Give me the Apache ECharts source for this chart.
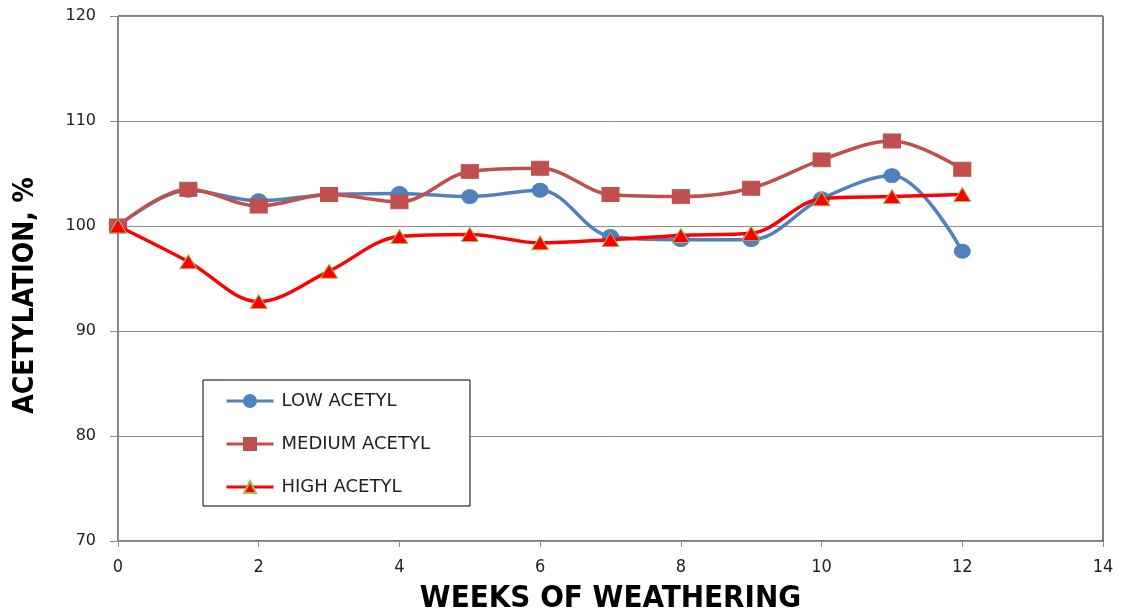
<!DOCTYPE html>
<html>
<head>
<meta charset="utf-8">
<title>Acetylation vs weeks of weathering</title>
<script src="https://cdn.jsdelivr.net/npm/echarts@6/dist/echarts.min.js"></script>
<style>
  html, body { margin: 0; padding: 0; background: #fff; }
  #chart { width: 1123px; height: 610px; }
</style>
</head>
<body>
<div id="chart"></div>
<script>
// Weeks of weathering (x values)
const weeks = [0, 1, 2, 3, 4, 5, 6, 7, 8, 9, 10, 11, 12];

// Acetylation retained, % of initial
const lowAcetyl    = [100, 103.4, 102.4, 103.0, 103.1, 102.8, 103.4, 99.0, 98.7, 98.7, 102.6, 104.8, 97.6];
const mediumAcetyl = [100, 103.5, 101.9, 103.0, 102.3, 105.2, 105.5, 103.0, 102.8, 103.6, 106.3, 108.1, 105.4];
const highAcetyl   = [100, 96.6, 92.8, 95.7, 99.0, 99.2, 98.4, 98.7, 99.1, 99.3, 102.6, 102.8, 103.0];

const seriesNames = ['LOW ACETYL', 'MEDIUM ACETYL', 'HIGH ACETYL'];

const xTitle = 'WEEKS OF WEATHERING';
const yTitle = 'ACETYLATION, %';

const pairs = ys => weeks.map((w, i) => [w, ys[i]]);

const chart = echarts.init(document.getElementById('chart'), null, { renderer: 'canvas' });

chart.setOption({
  animation: false,
  backgroundColor: '#ffffff',
  grid: {
    left: 118, right: 20, top: 16, bottom: 69,
    containLabel: false,
    outerBoundsMode: 'none',
    show: true, borderColor: '#000', borderWidth: 1, backgroundColor: 'transparent'
  },
  legend: {
    orient: 'vertical',
    left: 203, top: 380,
    padding: [12, 40, 10, 22],
    itemGap: 25,
    itemWidth: 47, itemHeight: 15,
    borderColor: '#000', borderWidth: 1,
    backgroundColor: '#fff',
    lineStyle: { width: 3 },
    textStyle: { fontFamily: 'DejaVu Sans', fontSize: 18, color: '#222', padding: [0, 0, 0, 3] },
    data: seriesNames
  },
  xAxis: {
    type: 'value', min: 0, max: 14, interval: 2,
    name: xTitle, nameLocation: 'middle', nameGap: 42,
    nameTextStyle: { fontFamily: "'DejaVu Sans Condensed', 'Liberation Sans'", fontWeight: 'bold', fontSize: 31, color: '#000' },
    axisLine: { show: true, lineStyle: { color: '#8c8c8c', width: 1 } },
    axisTick: { show: true, inside: false, length: 6, lineStyle: { color: '#8c8c8c' } },
    axisLabel: { fontFamily: "'DejaVu Sans Condensed', 'Liberation Sans'", fontSize: 18, color: '#222', margin: 17 },
    splitLine: { show: false }
  },
  yAxis: {
    type: 'value', min: 70, max: 120, interval: 10,
    name: yTitle, nameLocation: 'middle', nameGap: 78, nameRotate: 90,
    nameTextStyle: {
      fontFamily: "'DejaVu Sans Condensed', 'Liberation Sans'", fontWeight: 'bold', fontSize: 28, color: '#000',
      padding: [0, 34, 0, 0]
    },
    axisLine: { show: true, lineStyle: { color: '#8c8c8c', width: 1 } },
    axisTick: { show: true, inside: false, length: 8, lineStyle: { color: '#8c8c8c' } },
    axisLabel: { fontFamily: 'DejaVu Sans', fontSize: 16, color: '#222', margin: 22 },
    splitLine: { show: true, lineStyle: { color: '#8c8c8c', width: 1 } }
  },
  series: [
    {
      name: seriesNames[0], type: 'line', data: pairs(lowAcetyl), smooth: 0.35,
      symbol: 'circle', symbolSize: [16, 14],
      lineStyle: { color: '#4F81BD', width: 3.5 },
      itemStyle: { color: '#4F81BD', borderColor: '#4F81BD', borderWidth: 1 },
      z: 2
    },
    {
      name: seriesNames[1], type: 'line', data: pairs(mediumAcetyl), smooth: 0.35,
      symbol: 'rect', symbolSize: [17, 14],
      lineStyle: { color: '#C0504D', width: 3.5 },
      itemStyle: { color: '#C0504D', borderColor: '#C0504D', borderWidth: 1 },
      z: 3
    },
    {
      name: seriesNames[2], type: 'line', data: pairs(highAcetyl), smooth: 0.35,
      symbol: 'triangle', symbolSize: [17, 14],
      lineStyle: { color: '#FF0000', width: 3.5 },
      itemStyle: { color: '#FF0000', borderColor: '#9BBB59', borderWidth: 1 },
      z: 4
    }
  ]
});
</script>
</body>
</html>
